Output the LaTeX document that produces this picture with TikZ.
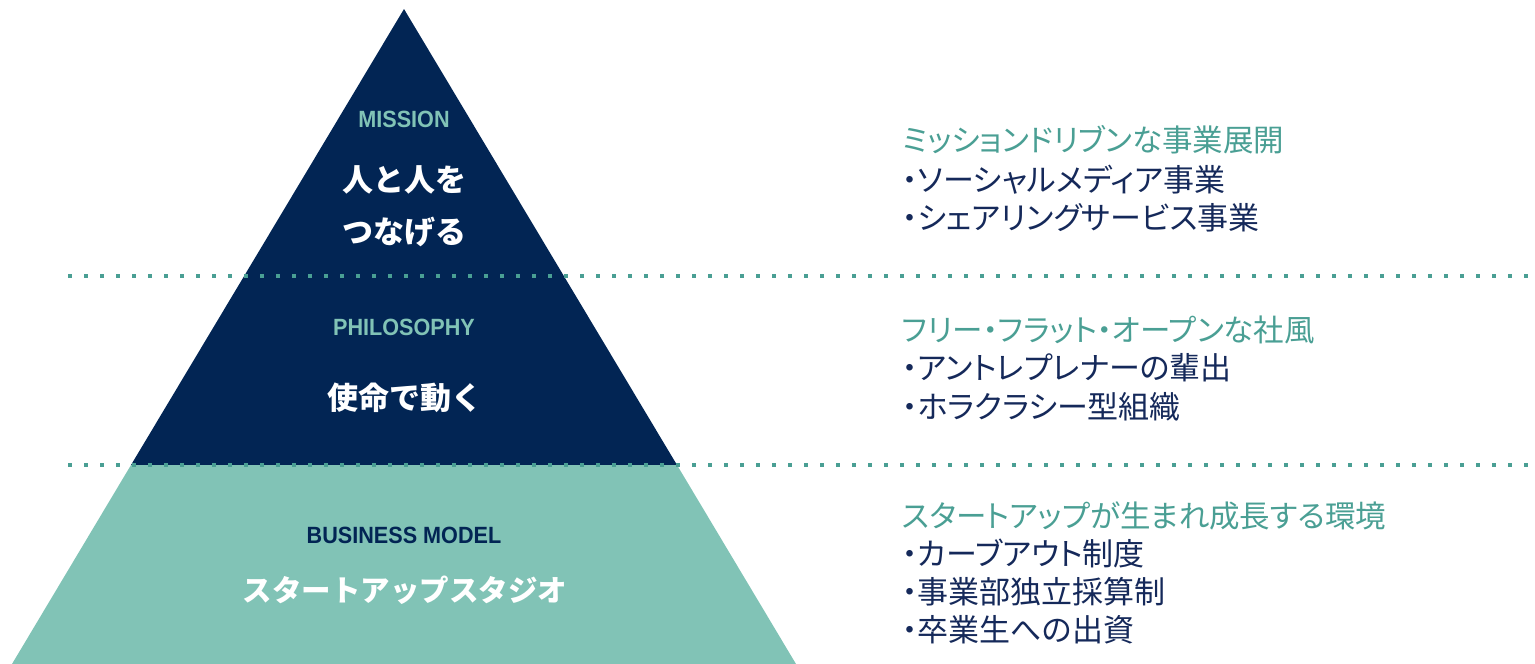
\documentclass[tikz,border=0pt]{standalone}
\usepackage{fontspec}
\setmainfont{Noto Sans CJK JP}
\newfontfamily\jpp[RawFeature=+palt]{Noto Sans CJK JP}
\newfontfamily\latf{Liberation Sans}
\definecolor{navy}{HTML}{022554}
\definecolor{lteal}{HTML}{81C3B6}
\definecolor{dteal}{HTML}{4A9F94}
\definecolor{txtnavy}{HTML}{15295A}
\newcommand{\condlbl}[1]{\scalebox{0.92}[1]{#1}}
\tikzset{
  lbl/.style={font=\latf\bfseries\fontsize{23.5}{27}\selectfont, inner sep=0pt, anchor=center},
  jbig/.style={font=\bfseries\fontsize{31}{52}\selectfont, text=white, inner sep=0pt, anchor=center, align=center},
  head/.style={font=\jpp\fontsize{30.5}{33}\selectfont, text=dteal, inner sep=0pt, anchor=west},
  item/.style={font=\jpp\fontsize{31}{33}\selectfont, text=txtnavy, inner sep=0pt, anchor=west},
  sep/.style={draw=dteal, line width=4pt, dash pattern=on 4pt off 12pt, line cap=butt},
}
\begin{document}
\begin{tikzpicture}[x=1pt,y=-1pt]
\useasboundingbox (0,0) rectangle (1535,664);
% pyramid
\coordinate (apex) at (404,9);
\coordinate (ml) at (131,465);
\coordinate (mr) at (677,465);
\coordinate (bl) at (12,664);
\coordinate (br) at (796,664);
\fill[navy] (apex) -- (mr) -- (ml) -- cycle;
\fill[lteal] (ml) -- (mr) -- (br) -- (bl) -- cycle;
% separators
\coordinate (s1a) at (68,276);
\coordinate (s1b) at (1535,276);
\coordinate (s2a) at (68,465);
\coordinate (s2b) at (1535,465);
\draw[sep] (s1a) -- (s1b);
\draw[sep] (s2a) -- (s2b);
% pyramid texts
\node[lbl, text=lteal] (mis) at (404,119) {\condlbl{MISSION}};
\node[jbig] (misj1) at (404,180) {人と人を};
\node[jbig] (misj2) at (404,232) {つなげる};
\node[lbl, text=lteal] (phi) at (404,327) {\condlbl{PHILOSOPHY}};
\node[jbig] (phij) at (405,398) {使命で動く};
\node[lbl, text=navy] (bus) at (404,535) {\condlbl{BUSINESS MODEL}};
\node[jbig, font=\bfseries\fontsize{29.5}{35}\selectfont] (busj) at (405,590) {スタートアップスタジオ};
% right side texts
\node[head] (h1) at (902,140) {ミッションドリブンな事業展開};
\node[item] (i11) at (902,180) {・ソーシャルメディア事業};
\node[item] (i12) at (902,218) {・シェアリングサービス事業};
\node[head] (h2) at (902,330) {フリー・フラット・オープンな社風};
\node[item] (i21) at (902,368) {・アントレプレナーの輩出};
\node[item] (i22) at (902,407) {・ホラクラシー型組織};
\node[head] (h3) at (902,516) {スタートアップが生まれ成長する環境};
\node[item] (i31) at (902,553) {・カーブアウト制度};
\node[item] (i32) at (902,592) {・事業部独立採算制};
\node[item] (i33) at (902,630) {・卒業生への出資};
\end{tikzpicture}
\end{document}
